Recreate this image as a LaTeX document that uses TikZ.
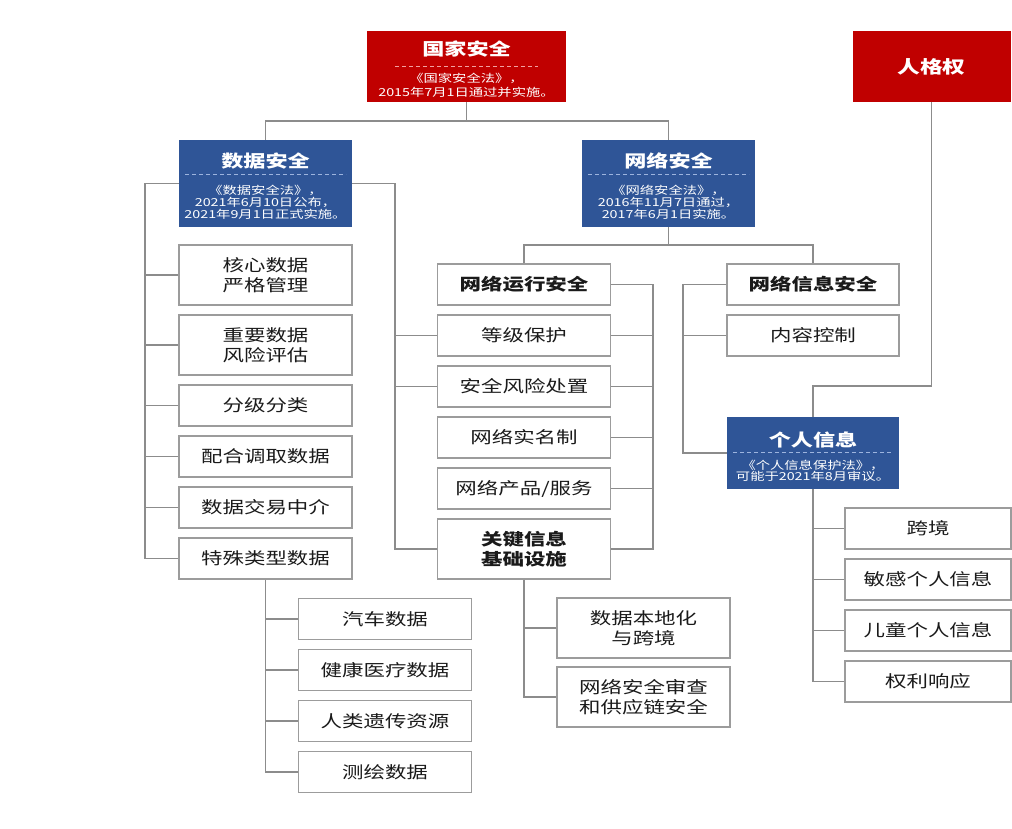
\documentclass[tikz,border=0pt]{standalone}
\usepackage{fontspec}
\newfontfamily\cjk[FakeStretch=1.3]{Noto Sans CJK SC}
\definecolor{redbox}{HTML}{C00000}
\definecolor{bluebox}{HTML}{2F5597}
\definecolor{linegray}{HTML}{8C8C8C}
\definecolor{boxgray}{HTML}{9C9C9C}
\definecolor{txt}{HTML}{1A1A1A}
\definecolor{reddash}{HTML}{F2A0A0}
\definecolor{bluedash}{HTML}{9DB4DE}
\tikzset{
  conn/.style={draw=linegray, line width=1.3pt},
  leaf/.style={draw=boxgray, line width=1.3pt, fill=white, minimum width=173pt,
    minimum height=41pt, inner sep=0pt, text=txt, align=center,
    font=\cjk\fontsize{16.5}{19.5}\selectfont},
  tallleaf/.style={leaf, minimum height=60pt},
  sepline/.style n args={3}{path picture={
    \draw[draw=#1, line width=0.9pt, dash pattern=on 4pt off 3pt]
      ([xshift=#2, yshift=-#3]path picture bounding box.north west) --
      ([xshift=-#2, yshift=-#3]path picture bounding box.north east);}},
  headbox/.style={fill=#1, inner sep=0pt, text=white, align=center,
    minimum width=173pt, minimum height=87pt,
    font=\cjk\fontsize{11}{12}\selectfont},
}
\newcommand{\ttl}[1]{{\bfseries\fontsize{17}{20}\selectfont #1}}
\begin{document}
\begin{tikzpicture}[x=1pt, y=-1pt]
\useasboundingbox[fill=white] (0,0) rectangle (1012,828);

% top level
\node[headbox=redbox, minimum width=199pt, minimum height=71pt, sepline={reddash}{28pt}{35pt},
      font=\cjk\fontsize{11}{14}\selectfont]
  (gj) at (466.5,66.5) {\rule{0pt}{19pt}\ttl{国家安全}\\[13pt]《国家安全法》，\\2015年7月1日通过并实施。};
\node[fill=redbox, text=white, minimum width=158pt, minimum height=71pt, inner sep=0pt,
      font=\cjk\bfseries\fontsize{17.5}{20}\selectfont]
  (rgq) at (931.5,66.5) {人格权};

% second level
\node[headbox=bluebox, sepline={bluedash}{6pt}{34pt}]
  (sj) at (265.5,183.5) {\rule{0pt}{19pt}\ttl{数据安全}\\[15pt]《数据安全法》，\\2021年6月10日公布，\\2021年9月1日正式实施。};
\node[headbox=bluebox, sepline={bluedash}{6pt}{34pt}]
  (wl) at (668.5,183.5) {\rule{0pt}{19pt}\ttl{网络安全}\\[15pt]《网络安全法》，\\2016年11月7日通过，\\2017年6月1日实施。};

% data security column
\node[tallleaf] (d1) at (265.5,275) {核心数据\\严格管理};
\node[tallleaf] (d2) at (265.5,345) {重要数据\\风险评估};
\node[leaf] (d3) at (265.5,405.5) {分级分类};
\node[leaf] (d4) at (265.5,456.5) {配合调取数据};
\node[leaf] (d5) at (265.5,507.5) {数据交易中介};
\node[leaf] (d6) at (265.5,558.5) {特殊类型数据};

% special data
\node[leaf] (s1) at (385,619) {汽车数据};
\node[leaf] (s2) at (385,670) {健康医疗数据};
\node[leaf] (s3) at (385,721) {人类遗传资源};
\node[leaf] (s4) at (385,772) {测绘数据};

% network operation column
\node[leaf, font=\cjk\bfseries\fontsize{16.5}{19.5}\selectfont] (m1) at (524,284.5) {网络运行安全};
\node[leaf] (m2) at (524,335.5) {等级保护};
\node[leaf] (m3) at (524,386.5) {安全风险处置};
\node[leaf] (m4) at (524,437.5) {网络实名制};
\node[leaf] (m5) at (524,488.5) {网络产品/服务};
\node[tallleaf, font=\cjk\bfseries\fontsize{16.5}{19.5}\selectfont] (m6) at (524,549) {关键信息\\基础设施};

% CII children
\node[tallleaf] (k1) at (643.5,628) {数据本地化\\与跨境};
\node[tallleaf] (k2) at (643.5,697) {网络安全审查\\和供应链安全};

% network information column
\node[leaf, minimum width=172pt, font=\cjk\bfseries\fontsize{16.5}{19.5}\selectfont] (r1) at (813,284.5) {网络信息安全};
\node[leaf, minimum width=172pt] (r2) at (813,335.5) {内容控制};

% personal information
\node[headbox=bluebox, minimum width=172pt, minimum height=72pt, sepline={bluedash}{6pt}{35pt},
      font=\cjk\fontsize{11}{11}\selectfont]
  (gr) at (813,453) {\rule{0pt}{22pt}\ttl{个人信息}\\[11pt]《个人信息保护法》，\\可能于2021年8月审议。};

\node[leaf, minimum width=166pt] (p1) at (928,528.5) {跨境};
\node[leaf, minimum width=166pt] (p2) at (928,579.5) {敏感个人信息};
\node[leaf, minimum width=166pt] (p3) at (928,630.5) {儿童个人信息};
\node[leaf, minimum width=166pt] (p4) at (928,681.5) {权利响应};

% connectors
\coordinate (j1) at (466.5,121);
\coordinate (j2) at (668.5,245);
\coordinate (j3) at (0,386);
\coordinate (lb) at (145,0);
\coordinate (rb) at (395,0);
\coordinate (mb) at (653,0);
\coordinate (nb) at (683,0);

\draw[conn] (gj.south) -- (j1);
\draw[conn] (sj.north) |- (j1) -| (wl.north);
\draw[conn] (wl.south) -- (j2);
\draw[conn] (m1.north) |- (j2) -| (r1.north);

\draw[conn] (sj.west) -| (lb |- d6.west) -- (d6.west);
\foreach \n in {d1,d2,d3,d4,d5} \draw[conn] (\n.west) -- (lb |- \n.west);

\draw[conn] (sj.east) -| (rb |- m6.west) -- (m6.west);
\foreach \n in {m2,m3} \draw[conn] (\n.west) -- (rb |- \n.west);

\draw[conn] (m1.east) -| (mb |- m6.east) -- (m6.east);
\foreach \n in {m2,m3,m4,m5} \draw[conn] (\n.east) -- (mb |- \n.east);

\draw[conn] (d6.south) |- (s4.west);
\foreach \n in {s1,s2,s3} \draw[conn] (\n.west) -- (d6.south |- \n.west);

\draw[conn] (m6.south) |- (k2.west);
\draw[conn] (k1.west) -- (m6.south |- k1.west);

\draw[conn] (r1.west) -| (nb |- gr.west) -- (gr.west);
\draw[conn] (r2.west) -- (nb |- r2.west);

\draw[conn] (rgq.south) |- (gr.north |- j3) -- (gr.north);

\draw[conn] (gr.south) |- (p4.west);
\foreach \n in {p1,p2,p3} \draw[conn] (\n.west) -- (gr.south |- \n.west);
\end{tikzpicture}
\end{document}
